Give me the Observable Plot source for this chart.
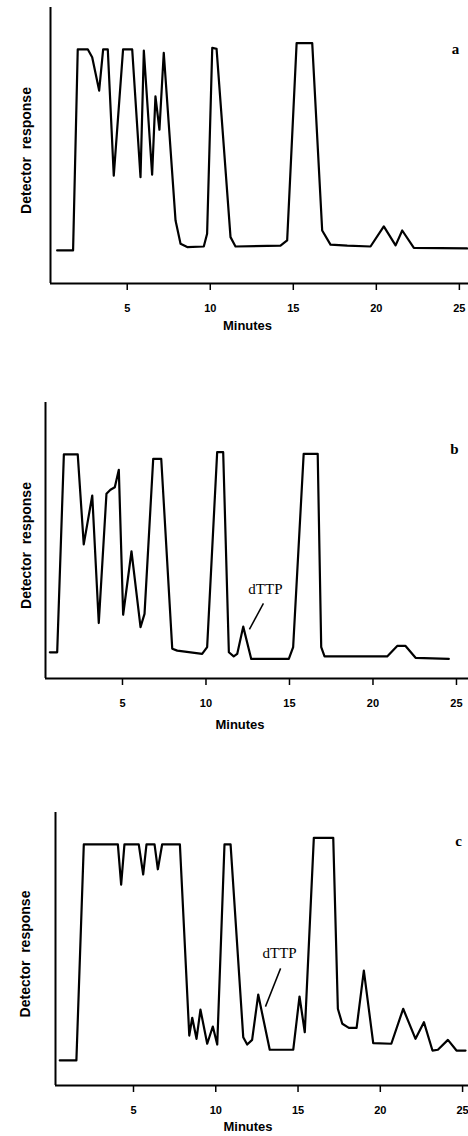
<!DOCTYPE html>
<html>
<head>
<meta charset="utf-8">
<script src="https://cdn.jsdelivr.net/npm/d3@7"></script>
<script src="https://cdn.jsdelivr.net/npm/@observablehq/plot@0.6"></script>
<style>
  html, body { margin: 0; padding: 0; background: #fff; }
  #wrap { width: 468px; }
  #wrap svg { display: block; }
</style>
</head>
<body>
<div id="wrap"></div>
<script>
// ---- Data ----
const tickMinutes = [5, 10, 15, 20, 25];

const minutesA  = [0.78, 1.74, 2.02, 2.63, 2.89, 3.31, 3.55, 3.83, 4.19, 4.75, 5.30, 5.80, 6.00, 6.50, 6.70, 6.94, 7.20, 7.91, 8.21, 8.61, 9.61, 9.81, 10.12, 10.38, 11.22, 11.52, 14.23, 14.63, 15.20, 16.14, 16.74, 17.24, 18.25, 19.65, 20.45, 21.16, 21.56, 22.26, 25.47];
const responseA = [12.0, 12.0, 84.8, 84.8, 82.0, 69.9, 84.8, 84.8, 39.1, 84.8, 84.8, 38.5, 84.4, 39.4, 67.8, 55.7, 83.6, 22.8, 14.4, 13.2, 13.4, 18.0, 85.4, 85.0, 16.8, 13.4, 13.7, 15.6, 87.1, 87.1, 19.2, 14.1, 13.7, 13.4, 20.7, 13.8, 19.2, 12.9, 12.7];

const minutesB  = [0.65, 1.09, 1.49, 2.32, 2.68, 3.19, 3.58, 4.04, 4.28, 4.54, 4.78, 5.04, 5.54, 6.08, 6.32, 6.84, 7.32, 7.98, 8.28, 9.77, 10.07, 10.67, 11.03, 11.37, 11.66, 11.87, 12.23, 12.71, 14.96, 15.22, 15.85, 16.69, 16.90, 17.10, 20.85, 21.45, 21.95, 22.55, 24.54];
const responseB = [9.5, 9.5, 81.2, 81.2, 48.6, 66.3, 20.1, 66.9, 68.4, 69.3, 75.6, 23.1, 46.1, 18.6, 23.4, 79.6, 79.6, 10.8, 10.1, 8.9, 11.4, 82.0, 82.0, 9.5, 8.0, 8.9, 18.8, 7.1, 7.1, 11.4, 81.4, 81.4, 11.4, 8.0, 8.0, 11.8, 11.8, 7.5, 7.1];

const minutesC  = [0.52, 1.53, 1.98, 4.05, 4.25, 4.45, 5.32, 5.59, 5.79, 6.28, 6.48, 6.74, 7.82, 8.39, 8.57, 8.83, 9.07, 9.48, 9.82, 10.09, 10.53, 10.90, 11.67, 11.91, 12.21, 12.58, 13.28, 14.71, 15.09, 15.41, 15.96, 17.14, 17.42, 17.69, 18.09, 18.56, 19.00, 19.57, 20.67, 21.39, 22.14, 22.65, 23.17, 23.50, 24.11, 24.63, 25.18];
const responseC = [9.2, 9.2, 88.3, 88.3, 73.6, 88.3, 88.3, 77.3, 88.3, 88.3, 79.2, 88.3, 88.3, 18.3, 24.8, 17.1, 27.8, 15.3, 21.6, 15.0, 88.3, 88.3, 17.7, 15.0, 16.7, 33.3, 13.1, 13.1, 32.6, 19.5, 90.7, 90.7, 28.1, 22.6, 21.1, 21.1, 42.1, 15.5, 15.3, 28.1, 17.1, 23.2, 12.8, 13.1, 16.7, 12.8, 12.8];

// dTTP annotations (text position and leader line, in minutes / response units)
const noteB = {label: "dTTP", tx: 13.56, ty: 32.2, x1: 13.44, y1: 27.2, x2: 12.60, y2: 17.8};
const noteC = {label: "dTTP", tx: 13.88, ty: 48.4, x1: 13.94, y1: 42.9, x2: 13.02, y2: 28.9};

const yLabel = "Detector  response";
const xLabel = "Minutes";

// ---- Panel settings ----
const panels = [
  {id: "a", minutes: minutesA, response: responseA, note: null,
   height: 360, marginTop: 7, marginBottom: 77, marginLeft: 50, xDomain: [0.38, 25.55],
   letterDx: -13, letterDy: 36, yLabDx: -24, yLabDy: 5, minDy: 46, minDx: -12},
  {id: "b", minutes: minutesB, response: responseB, note: noteB,
   height: 400, marginTop: 42, marginBottom: 82, marginLeft: 45, xDomain: [0.39, 25.72],
   letterDx: -14, letterDy: 41, yLabDx: -19, yLabDy: 5, minDy: 50, minDx: -17},
  {id: "c", minutes: minutesC, response: responseC, note: noteC,
   height: 376, marginTop: 52, marginBottom: 51, marginLeft: 55, xDomain: [0.26, 25.36],
   letterDx: -10, letterDy: 23, yLabDx: -30, yLabDy: 5, minDy: 45, minDx: -14}
];

const wrap = document.getElementById("wrap");

for (const p of panels) {
  const pts = p.minutes.map((m, i) => ({minute: m, response: p.response[i]}));
  const marks = [
    Plot.ruleY([0], {stroke: "#000", strokeWidth: 2}),
    Plot.ruleX([p.xDomain[0]], {stroke: "#000", strokeWidth: 2}),
    Plot.axisX({ticks: tickMinutes, tickSize: 7, tickPadding: 14, tickFormat: d => String(d),
      fontWeight: "bold", fontSize: 11, fontFamily: "Liberation Sans, Arial, sans-serif",
      label: null, stroke: "#000", strokeWidth: 1.5}),
    Plot.line(pts, {x: "minute", y: "response", stroke: "#000", strokeWidth: 2.2,
      strokeLinejoin: "round", strokeLinecap: "round"}),
    Plot.text([p.id], {frameAnchor: "top-right", textAnchor: "middle", dx: p.letterDx, dy: p.letterDy,
      fontFamily: "Liberation Serif, Times New Roman, serif", fontWeight: "bold", fontSize: 15, fill: "#000"}),
    Plot.text([yLabel], {frameAnchor: "left", textAnchor: "middle", rotate: -90, dx: p.yLabDx, dy: p.yLabDy,
      fontFamily: "Liberation Sans, Arial, sans-serif", fontWeight: "bold", fontSize: 14, fill: "#000"}),
    Plot.text([xLabel], {frameAnchor: "bottom", textAnchor: "middle", dx: p.minDx, dy: p.minDy,
      fontFamily: "Liberation Sans, Arial, sans-serif", fontWeight: "bold", fontSize: 13, fill: "#000"})
  ];
  if (p.note) {
    const n = p.note;
    marks.push(Plot.link([n], {x1: "x1", y1: "y1", x2: "x2", y2: "y2", stroke: "#000", strokeWidth: 1.5}));
    marks.push(Plot.text([n], {x: "tx", y: "ty", text: "label",
      fontFamily: "Liberation Serif, Times New Roman, serif", fontSize: 15, fill: "#000"}));
  }
  const chart = Plot.plot({
    width: 468,
    height: p.height,
    marginTop: p.marginTop,
    marginBottom: p.marginBottom,
    marginLeft: p.marginLeft,
    marginRight: 0,
    style: {background: "#fff", color: "#000", overflow: "visible"},
    x: {domain: p.xDomain, axis: null},
    y: {domain: [0, 100], axis: null},
    marks
  });
  wrap.appendChild(chart);
}
</script>
</body>
</html>
